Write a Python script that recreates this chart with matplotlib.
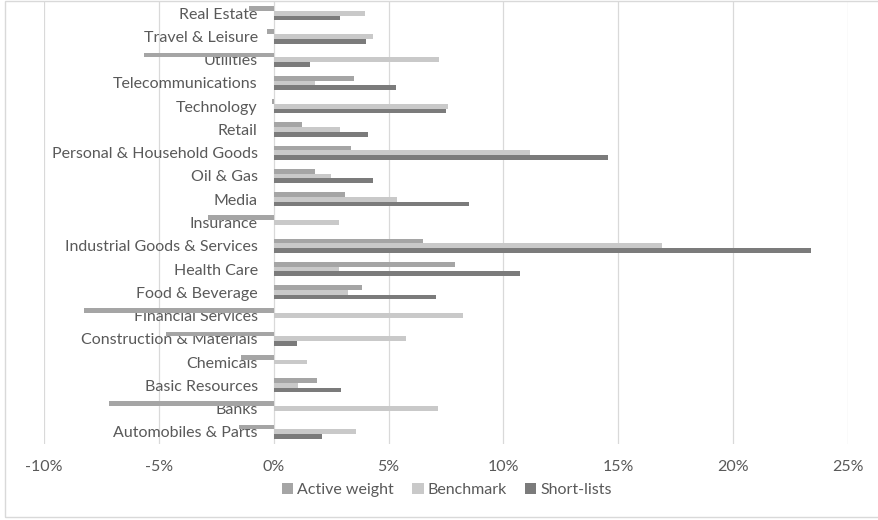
import numpy as np
import matplotlib.pyplot as plt
from matplotlib.patches import Rectangle
from matplotlib.ticker import FuncFormatter, MultipleLocator

plt.rcParams.update({
    'font.family': ['Lato', 'DejaVu Sans'],
    'font.size': 11.5,
})

# Sector weights in percent (bottom to top)
sectors = [
    'Automobiles & Parts', 'Banks', 'Basic Resources', 'Chemicals',
    'Construction & Materials', 'Financial Services', 'Food & Beverage',
    'Health Care', 'Industrial Goods & Services', 'Insurance', 'Media',
    'Oil & Gas', 'Personal & Household Goods', 'Retail', 'Technology',
    'Telecommunications', 'Utilities', 'Travel & Leisure', 'Real Estate',
]
benchmark = [3.59, 7.17, 1.07, 1.43, 5.74, 8.26, 3.22, 2.86, 16.91, 2.86,
             5.38, 2.50, 11.17, 2.88, 7.57, 1.81, 7.19, 4.31, 3.96]
short_lists = [2.09, 0.0, 2.94, 0.0, 1.03, 0.0, 7.05, 10.74, 23.40, 0.0,
               8.50, 4.31, 14.54, 4.09, 7.50, 5.31, 1.56, 4.03, 2.87]
active_weight = [-1.50, -7.17, 1.87, -1.43, -4.71, -8.26, 3.83, 7.88, 6.49, -2.86,
                 3.12, 1.81, 3.37, 1.21, -0.07, 3.50, -5.63, -0.28, -1.09]

series = [
    ('Active weight', active_weight, '#A5A5A5'),
    ('Benchmark', benchmark, '#C9C9C9'),
    ('Short-lists', short_lists, '#7B7B7B'),
]

TEXT = '#595959'
GRID = '#D9D9D9'
FS = 11.5

W, H = 879, 520
fig = plt.figure(figsize=(W / 100, H / 100), dpi=100)
ax = fig.add_axes([44 / W, 1 - 443.5 / H, (848 - 44) / W, (443.5 - 1.5) / H])

y = np.arange(len(sectors))
bar_h = 0.205
offsets = [bar_h, 0.0, -bar_h]
for (name, vals, color), off in zip(series, offsets):
    ax.barh(y + off, vals, height=bar_h, color=color, label=name, zorder=2)

ax.set_xlim(-10, 25)
ax.set_ylim(-0.5, len(sectors) - 0.5)
ax.xaxis.set_major_locator(MultipleLocator(5))
ax.xaxis.set_major_formatter(FuncFormatter(lambda v, _: f'{v:.0f}%'))
ax.grid(axis='x', color=GRID, linewidth=0.9, zorder=0)
ax.set_axisbelow(True)

# category labels sit next to the zero line
ax.spines['left'].set_position(('data', 0))
for side in ['left', 'right', 'top', 'bottom']:
    ax.spines[side].set_visible(False)
ax.set_yticks(y)
ax.set_yticklabels(sectors)
ax.tick_params(axis='y', length=0, pad=11.5, labelcolor=TEXT, labelsize=FS)
ax.tick_params(axis='x', length=0, pad=12, labelcolor=TEXT, labelsize=FS)
for lbl in ax.get_yticklabels():
    lbl.set_zorder(3)

fig.legend(loc='center', bbox_to_anchor=(447 / W, 1 - 490 / H), ncol=3,
           frameon=False, handlelength=0.7, handleheight=0.7,
           handletextpad=0.25, columnspacing=1.15, labelcolor=TEXT,
           fontsize=FS)

# chart area border
fig.patches.append(Rectangle((5 / W, 3 / H), (W + 5) / W, (H - 4) / H,
                             transform=fig.transFigure, fill=False,
                             edgecolor=GRID, linewidth=1.0))

fig.savefig('out.png', dpi=100, facecolor='white')
